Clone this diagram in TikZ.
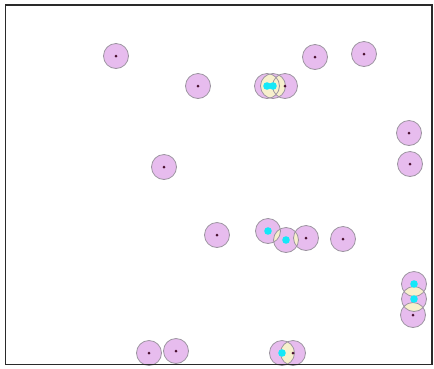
\documentclass[tikz,border=0pt]{standalone}
\definecolor{pinkc}{HTML}{E7BCEE}
\definecolor{ringc}{HTML}{9C94A0}
\definecolor{creamc}{HTML}{F7F0CC}
\definecolor{dotc}{HTML}{4A1030}
\definecolor{cyanc}{HTML}{14E8F8}
\definecolor{framec}{HTML}{2A2A2A}
\tikzset{
  disc/.style={circle, minimum size=25pt, inner sep=0pt, fill=pinkc},
  ring/.style={circle, minimum size=25pt, inner sep=0pt, draw=ringc, line width=0.8pt},
  cdot/.style={fill=cyanc},
  ddot/.style={fill=dotc}
}
\newcommand{\lens}[2]{\begin{scope}\clip (#1.center) circle (12.5pt); \fill[creamc] (#2.center) circle (12.5pt);\end{scope}}
\begin{document}
\begin{tikzpicture}[x=1pt,y=-1pt]
\useasboundingbox (0,0) rectangle (434,368);
\fill[white] (0,0) rectangle (434,368);
% discs
\node[disc] (c1) at (116,56) {};
\node[disc] (c2) at (198,86) {};
\node[disc] (c3) at (315,57) {};
\node[disc] (c4) at (364,54) {};
\node[disc] (c5) at (409,133) {};
\node[disc] (c6) at (410,164) {};
\node[disc] (c7) at (164,167) {};
\node[disc] (c8) at (217,235) {};
\node[disc] (c9) at (343,239) {};
\node[disc] (c10) at (306,238) {};
\node[disc] (c11) at (268,231) {};
\node[disc] (c12) at (286,240) {};
\node[disc] (c13) at (149,353) {};
\node[disc] (c14) at (176,351) {};
\node[disc] (c15) at (267,86) {};
\node[disc] (c16) at (273,86) {};
\node[disc] (c17) at (285,86) {};
\node[disc] (c18) at (414,284) {};
\node[disc] (c19) at (414,299) {};
\node[disc] (c20) at (413,315) {};
\node[disc] (c21) at (282,353) {};
\node[disc] (c22) at (293,353) {};
% overlaps
\lens{c15}{c16}
\lens{c16}{c17}
\lens{c15}{c17}
\lens{c11}{c12}
\lens{c12}{c10}
\lens{c18}{c19}
\lens{c19}{c20}
\lens{c21}{c22}
% outlines
\foreach \i in {1,...,22} {\node[ring] at (c\i) {};}
% dots
\foreach \i in {1,2,3,4,5,6,7,8,9,10,13,14,17,20,22} {\fill[ddot] (c\i.center) circle (1.5pt);}
\foreach \i in {11,12,15,16,18,19,21} {\fill[cdot] (c\i.center) circle (3.8pt);}
% frame
\draw[framec, line width=1.5pt] (5.5,5) rectangle (432,364.5);
\end{tikzpicture}
\end{document}
